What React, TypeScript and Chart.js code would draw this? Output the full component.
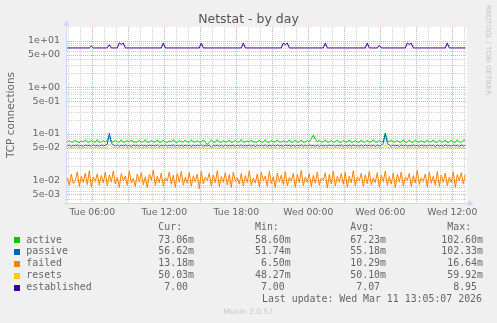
import React, { useEffect, useRef } from "react";
import { Chart, registerables } from "chart.js";

Chart.register(...registerables);

// ---- time axis (minutes from Tue 00:00) ----
const START_MIN = 235; // first sample, Tue 03:55
const STEP_MIN = 10;
const X_MIN = 233.5;
const X_MAX = 2233.5;

const xTickValues = [360, 720, 1080, 1440, 1800, 2160];
const xTickLabels = ["Tue 06:00", "Tue 12:00", "Tue 18:00", "Wed 00:00", "Wed 06:00", "Wed 12:00"];

const Y_MIN = 0.00325;
const Y_MAX = 19.7;
const yTickValues = [0.005, 0.01, 0.05, 0.1, 0.5, 1, 5, 10];
const yTickLabels = ["5e-03", "1e-02", "5e-02", "1e-01", "5e-01", "1e+00", "5e+00", "1e+01"];

// ---- series ----
const seriesNames = ["active", "passive", "failed", "resets", "established"];
const seriesColors = ["#00CC00", "#0066B3", "#FF8000", "#FFCC00", "#330099"];

const activeValues = [
  0.0660,0.0712,0.0655,0.0668,0.0735,0.0662,0.0650,0.0700,0.0665,0.0742,0.0668,0.0658,0.0725,0.0670,0.0660,0.0748,0.0652,0.0666,0.0710,0.0663,
  0.0740,0.0900,0.0690,0.0658,0.0730,0.0665,0.0661,0.0745,0.0656,0.0669,0.0718,0.0660,0.0738,0.0652,0.0667,0.0664,0.0728,0.0659,0.0670,0.0745,
  0.0655,0.0663,0.0715,0.0668,0.0661,0.0740,0.0650,0.0666,0.0732,0.0660,0.0658,0.0700,0.0664,0.0747,0.0662,0.0653,0.0720,0.0668,0.0660,0.0736,
  0.0665,0.0657,0.0744,0.0661,0.0668,0.0712,0.0655,0.0663,0.0740,0.0660,0.0586,0.0664,0.0730,0.0667,0.0659,0.0748,0.0662,0.0655,0.0718,0.0666,
  0.0660,0.0738,0.0652,0.0668,0.0725,0.0661,0.0664,0.0750,0.0657,0.0666,0.0705,0.0662,0.0740,0.0655,0.0669,0.0660,0.0733,0.0658,0.0665,0.0746,
  0.0661,0.0654,0.0722,0.0667,0.0660,0.0741,0.0663,0.0656,0.0710,0.0668,0.0662,0.0744,0.0651,0.0666,0.0729,0.0660,0.0664,0.0738,0.0657,0.0669,
  0.0715,0.0660,0.0780,0.0930,0.0760,0.0662,0.0735,0.0655,0.0667,0.0745,0.0660,0.0663,0.0718,0.0657,0.0668,0.0740,0.0661,0.0654,0.0726,0.0665,
  0.0660,0.0743,0.0658,0.0667,0.0712,0.0662,0.0655,0.0739,0.0664,0.0660,0.0730,0.0653,0.0668,0.0747,0.0661,0.0659,0.0720,0.0666,0.0700,0.1026,
  0.0720,0.0663,0.0740,0.0656,0.0669,0.0715,0.0660,0.0662,0.0745,0.0655,0.0667,0.0732,0.0661,0.0658,0.0742,0.0664,0.0660,0.0710,0.0668,0.0653,
  0.0738,0.0662,0.0666,0.0744,0.0657,0.0661,0.0725,0.0668,0.0660,0.0740,0.0655,0.0664,0.0735,0.0662,0.0659,0.0748,0.0666,0.0660,0.0720,0.0731,
];

const passiveValues = [
  0.0545,0.0570,0.0538,0.0566,0.0549,0.0575,0.0541,0.0562,0.0536,0.0572,0.0547,0.0568,0.0540,0.0578,0.0544,0.0565,0.0539,0.0571,0.0550,0.0563,
  0.0600,0.1023,0.0640,0.0569,0.0543,0.0574,0.0537,0.0566,0.0548,0.0577,0.0541,0.0563,0.0535,0.0570,0.0546,0.0568,0.0539,0.0575,0.0544,0.0562,
  0.0538,0.0573,0.0549,0.0565,0.0542,0.0579,0.0536,0.0567,0.0545,0.0571,0.0540,0.0564,0.0548,0.0576,0.0537,0.0569,0.0543,0.0562,0.0539,0.0574,
  0.0546,0.0566,0.0535,0.0572,0.0541,0.0568,0.0550,0.0577,0.0538,0.0563,0.0544,0.0570,0.0517,0.0565,0.0547,0.0573,0.0540,0.0567,0.0536,0.0578,
  0.0543,0.0564,0.0549,0.0571,0.0537,0.0569,0.0545,0.0575,0.0539,0.0562,0.0548,0.0574,0.0541,0.0566,0.0535,0.0572,0.0546,0.0568,0.0542,0.0576,
  0.0538,0.0563,0.0547,0.0570,0.0540,0.0578,0.0544,0.0565,0.0536,0.0573,0.0549,0.0567,0.0542,0.0571,0.0539,0.0564,0.0546,0.0577,0.0537,0.0569,
  0.0543,0.0575,0.0548,0.0566,0.0540,0.0572,0.0535,0.0568,0.0545,0.0563,0.0541,0.0576,0.0547,0.0570,0.0538,0.0565,0.0550,0.0573,0.0536,0.0567,
  0.0544,0.0571,0.0539,0.0578,0.0546,0.0562,0.0541,0.0574,0.0537,0.0569,0.0548,0.0566,0.0543,0.0572,0.0535,0.0575,0.0545,0.0564,0.0620,0.1018,
  0.0630,0.0568,0.0540,0.0573,0.0547,0.0565,0.0536,0.0577,0.0544,0.0570,0.0539,0.0563,0.0549,0.0575,0.0542,0.0567,0.0537,0.0571,0.0546,0.0564,
  0.0540,0.0576,0.0548,0.0569,0.0535,0.0572,0.0543,0.0566,0.0538,0.0578,0.0545,0.0563,0.0541,0.0574,0.0547,0.0568,0.0536,0.0571,0.0544,0.0566,
];

const failedValues = [
  0.0112,0.0078,0.0135,0.0085,0.0098,0.0152,0.0074,0.0121,0.0090,0.0143,0.0081,0.0160,0.0072,0.0118,0.0095,0.0138,0.0079,0.0127,0.0088,0.0149,
  0.0076,0.0131,0.0092,0.0158,0.0083,0.0115,0.0070,0.0140,0.0097,0.0124,0.0078,0.0155,0.0087,0.0110,0.0073,0.0137,0.0093,0.0146,0.0080,0.0119,
  0.0069,0.0134,0.0101,0.0166,0.0077,0.0122,0.0089,0.0144,0.0075,0.0113,0.0096,0.0151,0.0082,0.0128,0.0071,0.0139,0.0091,0.0157,0.0079,0.0116,
  0.0086,0.0147,0.0074,0.0125,0.0094,0.0136,0.0065,0.0154,0.0084,0.0117,0.0099,0.0142,0.0076,0.0130,0.0088,0.0161,0.0073,0.0120,0.0092,0.0145,
  0.0080,0.0133,0.0070,0.0150,0.0095,0.0114,0.0083,0.0141,0.0075,0.0126,0.0090,0.0159,0.0078,0.0111,0.0087,0.0137,0.0072,0.0148,0.0098,0.0123,
  0.0074,0.0156,0.0085,0.0119,0.0069,0.0143,0.0093,0.0129,0.0081,0.0153,0.0076,0.0115,0.0096,0.0140,0.0071,0.0132,0.0089,0.0164,0.0077,0.0118,
  0.0091,0.0138,0.0073,0.0127,0.0086,0.0150,0.0079,0.0112,0.0100,0.0145,0.0068,0.0134,0.0084,0.0157,0.0075,0.0121,0.0093,0.0139,0.0082,0.0148,
  0.0070,0.0124,0.0088,0.0160,0.0077,0.0116,0.0097,0.0142,0.0074,0.0131,0.0085,0.0153,0.0080,0.0113,0.0090,0.0146,0.0072,0.0128,0.0094,0.0158,
  0.0078,0.0120,0.0083,0.0144,0.0069,0.0135,0.0092,0.0151,0.0076,0.0117,0.0099,0.0140,0.0073,0.0126,0.0087,0.0162,0.0081,0.0114,0.0095,0.0137,
  0.0071,0.0149,0.0086,0.0122,0.0079,0.0155,0.0074,0.0130,0.0091,0.0143,0.0077,0.0118,0.0089,0.0152,0.0070,0.0133,0.0096,0.0147,0.0084,0.0132,
];

const resetsValues = [
  0.0500,0.0497,0.0503,0.0500,0.0495,0.0501,0.0500,0.0506,0.0498,0.0500,0.0494,0.0502,0.0500,0.0499,0.0505,0.0500,0.0496,0.0501,0.0500,0.0503,
  0.0520,0.0599,0.0530,0.0500,0.0498,0.0502,0.0500,0.0494,0.0501,0.0500,0.0505,0.0499,0.0500,0.0496,0.0502,0.0500,0.0507,0.0498,0.0500,0.0501,
  0.0495,0.0500,0.0503,0.0500,0.0497,0.0500,0.0504,0.0499,0.0500,0.0493,0.0501,0.0500,0.0506,0.0500,0.0498,0.0502,0.0500,0.0495,0.0500,0.0503,
  0.0500,0.0498,0.0501,0.0505,0.0500,0.0496,0.0500,0.0502,0.0499,0.0500,0.0483,0.0500,0.0504,0.0498,0.0500,0.0501,0.0495,0.0500,0.0503,0.0500,
  0.0497,0.0500,0.0502,0.0500,0.0494,0.0501,0.0500,0.0506,0.0498,0.0500,0.0503,0.0499,0.0500,0.0495,0.0501,0.0500,0.0504,0.0497,0.0500,0.0502,
  0.0500,0.0496,0.0500,0.0503,0.0499,0.0500,0.0495,0.0501,0.0500,0.0507,0.0498,0.0500,0.0502,0.0496,0.0500,0.0501,0.0500,0.0494,0.0503,0.0500,
  0.0499,0.0500,0.0505,0.0510,0.0502,0.0500,0.0497,0.0500,0.0503,0.0498,0.0500,0.0501,0.0495,0.0500,0.0504,0.0499,0.0500,0.0502,0.0496,0.0500,
  0.0503,0.0500,0.0498,0.0501,0.0500,0.0495,0.0500,0.0506,0.0499,0.0500,0.0502,0.0497,0.0500,0.0501,0.0494,0.0500,0.0503,0.0500,0.0520,0.0560,
  0.0515,0.0500,0.0498,0.0502,0.0500,0.0496,0.0501,0.0500,0.0505,0.0498,0.0500,0.0503,0.0499,0.0500,0.0495,0.0501,0.0500,0.0504,0.0497,0.0500,
  0.0502,0.0500,0.0496,0.0500,0.0503,0.0499,0.0500,0.0501,0.0495,0.0500,0.0506,0.0498,0.0500,0.0502,0.0497,0.0500,0.0501,0.0499,0.0500,0.0503,
];

const establishedValues = [
  7,7,7,7,7,7,7,7,7,7,7,7,7.7,7,7,7,7,7,7,7,
  7,8.2,7,7,7,7,8.95,8.3,8.9,7,7,7,7,7,7,7,7,7,7,7,
  7,7,7,7,7,7,7,7,8.95,7,7,7,7,7,7,7,7,7,7,7,
  7,7,7,7,7,7,7,8.9,7,7,7,7,7,7,7,7,7,7,7,7,
  7,7,7,7,7,7,7,7,8.95,7,7,7,7,7,7,7,7,7,7,7,
  7,7,7,7,7,7,7,7,8.9,8.2,8.9,7,7,7,7,7,7,7,7,7,
  7,7,7,7,7,7,7,7,7,8.9,7,7,7,7,7,7,7,7,7,7,
  7,7,7,7,7,7,7,7,7,7,8.9,7,7,7,7,7,7.9,7,7,7,
  7,7,7,7,7,7,7,7,7,7,8.9,8.3,8.85,7,7,7,7,7,7,7,
  7,7,7,7,7,7,7,7,7,7,8.95,7,7,7,7,7,7,7,7,7,
];

// ---- legend table ----
const curValues = ["73.06m", "56.62m", "13.18m", "50.03m", " 7.00 "];
const minValues = ["58.60m", "51.74m", " 6.50m", "48.27m", " 7.00 "];
const avgValues = ["67.23m", "55.18m", "10.29m", "50.10m", " 7.07 "];
const maxValues = ["102.60m", "102.33m", " 16.64m", " 59.92m", "  8.95 "];

const titleText = "Netstat - by day";
const yAxisTitle = "TCP connections";
const lastUpdateText = "Last update: Wed Mar 11 13:05:07 2026";
const watermarkText = "RRDTOOL / TOBI OETIKER";
const footerText = "Munin 2.0.57";

const allValues = [activeValues, passiveValues, failedValues, resetsValues, establishedValues];

const MINOR = "#d2d2d2";
const MAJOR = "#f2a5a5";
const AXIS = "#CFD6F8";
const FONT = "#666666";

const rrdPlugin = {
  id: "rrdLook",
  beforeDraw(chart: any) {
    const { ctx, chartArea: a, scales } = chart;
    const xs = scales.x;
    const ys = scales.y;
    ctx.save();
    ctx.fillStyle = "#F0F0F0";
    ctx.fillRect(0, 0, chart.width, chart.height);
    ctx.fillStyle = "#FFFFFF";
    ctx.fillRect(a.left, a.top, a.right - a.left, a.bottom - a.top);

    ctx.lineWidth = 1;
    ctx.setLineDash([1, 1]);
    // vertical grid: every hour, major every 3 hours
    for (let t = Math.ceil(X_MIN / 60) * 60; t <= X_MAX; t += 60) {
      const px = Math.round(xs.getPixelForValue(t)) + 0.5;
      if (px <= a.left || px >= a.right) continue;
      ctx.strokeStyle = t % 180 === 0 ? MAJOR : MINOR;
      ctx.beginPath();
      ctx.moveTo(px, a.top);
      ctx.lineTo(px, a.bottom);
      ctx.stroke();
    }
    // horizontal grid: 1..9 x 10^e, major at 1 and 5
    for (let e = -3; e <= 1; e++) {
      for (let m = 1; m <= 9; m++) {
        const v = m * Math.pow(10, e);
        if (v < Y_MIN || v > Y_MAX) continue;
        const py = Math.round(ys.getPixelForValue(v)) + 0.5;
        if (py <= a.top || py >= a.bottom) continue;
        ctx.strokeStyle = m === 1 || m === 5 ? MAJOR : MINOR;
        ctx.beginPath();
        ctx.moveTo(a.left, py);
        ctx.lineTo(a.right, py);
        ctx.stroke();
      }
    }
    ctx.setLineDash([]);

    // axes with arrows
    ctx.strokeStyle = AXIS;
    ctx.fillStyle = AXIS;
    const ax = a.left - 0.5;
    const ay = a.bottom + 0.5;
    ctx.beginPath();
    ctx.moveTo(ax, ay);
    ctx.lineTo(ax, a.top - 2);
    ctx.moveTo(ax - 2, ay);
    ctx.lineTo(a.right + 2, ay);
    ctx.stroke();
    ctx.beginPath();
    ctx.moveTo(ax - 3, a.top - 1);
    ctx.lineTo(ax + 3, a.top - 1);
    ctx.lineTo(ax, a.top - 7);
    ctx.closePath();
    ctx.fill();
    ctx.beginPath();
    ctx.moveTo(a.right + 1, ay - 3);
    ctx.lineTo(a.right + 1, ay + 3);
    ctx.lineTo(a.right + 7, ay);
    ctx.closePath();
    ctx.fill();
    ctx.restore();
  },
  afterDraw(chart: any) {
    const { ctx, chartArea: a } = chart;
    ctx.save();
    // title
    ctx.fillStyle = "#555555";
    ctx.font = "12.5px 'DejaVu Sans'";
    ctx.textAlign = "center";
    ctx.textBaseline = "middle";
    ctx.fillText(titleText, chart.width / 2, 19.5);

    // y axis title
    ctx.save();
    ctx.translate(11, (a.top + a.bottom) / 2);
    ctx.rotate(-Math.PI / 2);
    ctx.fillStyle = FONT;
    ctx.font = "10.5px 'DejaVu Sans'";
    ctx.fillText(yAxisTitle, 0, 0);
    ctx.restore();

    // watermark
    ctx.save();
    ctx.translate(488, 5);
    ctx.rotate(Math.PI / 2);
    ctx.fillStyle = "#c4c4c4";
    ctx.font = "7px 'DejaVu Sans'";
    ctx.textAlign = "left";
    ctx.textBaseline = "middle";
    ctx.fillText(watermarkText, 0, 0);
    ctx.restore();

    // legend table
    ctx.font = "9.9px 'DejaVu Sans Mono'";
    ctx.textAlign = "left";
    ctx.textBaseline = "middle";
    ctx.fillStyle = FONT;
    const headerY = 227.3;
    ctx.fillText("Cur:", 158.3, headerY);
    ctx.fillText("Min:", 255, headerY);
    ctx.fillText("Avg:", 350.3, headerY);
    ctx.fillText("Max:", 447.3, headerY);
    const rowY = [240, 251.8, 263.6, 275.6, 287.5];
    seriesNames.forEach((name, i) => {
      const y = rowY[i];
      ctx.fillStyle = seriesColors[i];
      ctx.fillRect(14, Math.round(y) - 3, 6, 6);
      ctx.fillStyle = FONT;
      ctx.fillText(name, 26.3, y);
      ctx.fillText(curValues[i], 158.3, y);
      ctx.fillText(minValues[i], 255, y);
      ctx.fillText(avgValues[i], 350.3, y);
      ctx.fillText(maxValues[i], 441.3, y);
    });
    ctx.fillText(lastUpdateText, 262, 299.4);

    // footer
    ctx.fillStyle = "#c8c8c8";
    ctx.font = "7.6px 'DejaVu Sans'";
    ctx.textAlign = "center";
    ctx.fillText(footerText, 248.3, 312.3);
    ctx.restore();
  },
};

export default function App() {
  const ref = useRef<HTMLCanvasElement>(null);

  useEffect(() => {
    const canvas = ref.current;
    if (!canvas) return;
    const datasets = allValues.map((vals, si) => ({
      label: seriesNames[si],
      data: vals.map((v, i) => ({ x: START_MIN + i * STEP_MIN, y: v })),
      borderColor: seriesColors[si],
      backgroundColor: seriesColors[si],
      borderWidth: 1,
      pointRadius: 0,
      tension: 0,
      fill: false,
      order: allValues.length - si,
    }));

    const chart = new Chart(canvas, {
      type: "line",
      data: { datasets },
      plugins: [rrdPlugin],
      options: {
        responsive: false,
        animation: false,
        events: [],
        layout: { padding: { left: 0, right: 30, top: 27, bottom: 100 } },
        plugins: {
          legend: { display: false },
          tooltip: { enabled: false },
          title: { display: false },
        },
        scales: {
          x: {
            type: "linear",
            min: X_MIN,
            max: X_MAX,
            bounds: "data",
            grid: { display: false, drawTicks: false },
            border: { display: false },
            afterBuildTicks: (s: any) => {
              s.ticks = xTickValues.map((v) => ({ value: v }));
            },
            afterFit: (s: any) => {
              s.height = 20;
            },
            ticks: {
              autoSkip: false,
              maxRotation: 0,
              minRotation: 0,
              padding: 4,
              color: FONT,
              font: { family: "'DejaVu Sans'", size: 9.3 },
              callback: (_v: any, i: number) => xTickLabels[i],
            },
          },
          y: {
            type: "logarithmic",
            min: Y_MIN,
            max: Y_MAX,
            bounds: "data",
            grid: { display: false, drawTicks: false },
            border: { display: false },
            afterBuildTicks: (s: any) => {
              s.ticks = yTickValues.map((v) => ({ value: v }));
            },
            afterFit: (s: any) => {
              s.width = 67;
            },
            ticks: {
              autoSkip: false,
              padding: 7,
              color: FONT,
              font: { family: "'DejaVu Sans'", size: 9.5 },
              callback: (_v: any, i: number) => yTickLabels[i],
            },
          },
        },
      } as any,
    });
    return () => chart.destroy();
  }, []);

  return (
    <div style={{ position: "absolute", left: 0, top: 0, width: 497, height: 323, background: "#F0F0F0" }}>
      <canvas ref={ref} width={497} height={323} style={{ display: "block", width: 497, height: 323 }} />
    </div>
  );
}
